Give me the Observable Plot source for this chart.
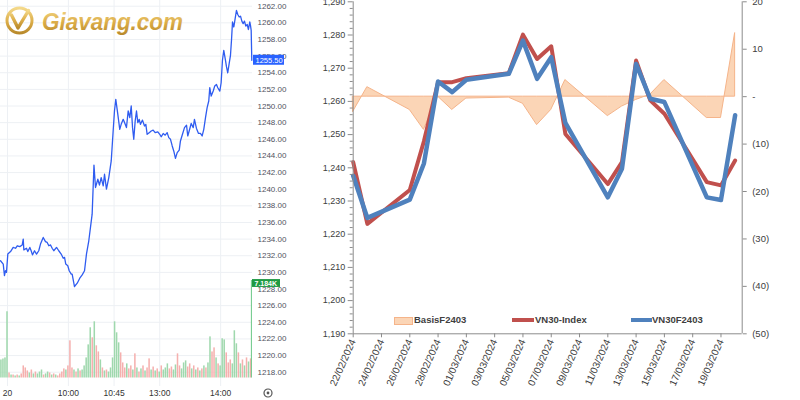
<!DOCTYPE html>
<html><head><meta charset="utf-8">
<script src="https://cdn.jsdelivr.net/npm/d3@7"></script>
<script src="https://cdn.jsdelivr.net/npm/@observablehq/plot@0.6"></script>
<style>
html,body{margin:0;padding:0;background:#fff;}
#wrap{position:relative;width:800px;height:400px;overflow:hidden;font-family:"Liberation Sans",Arial,sans-serif;}
#wrap svg{position:absolute;}
.lg{position:absolute;font:bold 9.5px "Liberation Sans",Arial,sans-serif;color:#404040;line-height:12px;white-space:nowrap;}
.sw{position:absolute;}
</style></head><body><div id="wrap"></div>
<script>
// ---------------- LEFT PANEL: intraday (trading minutes since 9:00) ----------------
const timeTicks  = [0, 60, 105, 150, 210];
const timeLabels = ["20", "10:00", "10:45", "13:00", "14:00"];
const sessionDomain = [-6.9, 241.4];
const priceTicks = [1218,1220,1222,1224,1226,1228,1230,1232,1234,1236,1238,1240,1242,1244,1246,1248,1250,1252,1254,1256,1258,1260,1262];

const priceTime = [-6.9,-4.2,-3.0,-2.0,-1.0,0.3,3.0,5.6,7.9,9.6,12.1,14.5,15.5,16.1,18.7,20.0,22.0,23.3,24.6,26.6,28.6,30.8,32.5,35.2,37.4,39.1,40.7,42.4,44.0,45.6,48.3,50.5,52.9,54.9,56.2,57.4,59.4,60.8,62.8,63.7,66.0,68.7,71.2,73.6,75.9,77.8,80.1,83.4,85.2,86.7,89.0,90.6,92.3,94.3,95.6,97.5,99.8,102.2,104.1,105.4,106.7,108.7,110.6,112.0,114.0,116.0,117.2,118.9,120.5,121.9,123.2,124.4,125.8,127.1,128.4,129.8,131.0,133.0,135.0,136.3,137.6,139.6,141.6,143.5,145.5,148.1,150.0,151.4,153.4,155.4,157.3,158.9,160.6,162.3,163.8,165.5,167.2,169.2,170.4,172.4,174.4,176.4,177.6,179.0,181.0,183.0,184.2,186.2,188.2,190.1,191.8,193.4,195.1,196.7,198.3,199.3,200.7,202.7,204.2,205.9,207.2,209.2,210.5,211.8,213.1,214.5,215.8,217.0,218.4,219.7,220.7,221.7,223.0,224.3,225.6,226.9,228.3,229.6,230.9,232.2,233.5,234.8,236.2,237.4,238.7,239.4,240.1,240.7];
const priceValue = [1231.4,1231.0,1229.6,1230.2,1230.0,1232.2,1232.5,1233.0,1232.9,1233.2,1233.1,1233.3,1234.0,1232.7,1232.9,1232.5,1233.0,1232.6,1232.1,1232.6,1232.2,1232.6,1233.4,1234.2,1233.7,1233.6,1233.2,1233.3,1232.9,1232.6,1233.0,1232.6,1232.2,1231.7,1231.8,1231.0,1230.8,1230.2,1229.8,1229.8,1228.3,1228.7,1229.3,1229.7,1230.2,1232.2,1233.8,1237.0,1242.9,1240.2,1241.2,1240.5,1241.4,1240.4,1241.8,1240.0,1241.4,1243.4,1247.0,1249.4,1250.8,1249.0,1247.2,1247.8,1248.4,1247.8,1247.4,1249.4,1248.6,1250.0,1247.4,1246.0,1248.2,1249.4,1248.0,1248.4,1247.8,1248.3,1247.6,1247.8,1246.6,1246.8,1247.0,1247.1,1246.8,1246.9,1246.6,1246.3,1246.7,1246.5,1246.8,1246.2,1246.0,1245.2,1244.6,1243.7,1244.4,1244.7,1245.8,1246.6,1247.4,1247.7,1246.4,1247.0,1247.9,1247.4,1248.4,1247.3,1246.7,1246.7,1246.4,1247.2,1248.6,1249.8,1250.6,1252.2,1251.2,1251.8,1252.4,1252.6,1252.2,1251.8,1252.8,1255.5,1256.7,1255.7,1254.7,1254.0,1255.1,1256.1,1257.9,1260.1,1259.5,1260.5,1261.5,1261.0,1260.7,1260.8,1260.2,1259.9,1260.2,1259.6,1259.8,1259.2,1260.1,1259.7,1259.1,1255.5];

// volume bars, one every 2 trading minutes starting at -6
const volStart = -6, volStep = 2;
const volValue = [1330,1400,1480,4880,370,220,220,150,220,150,300,890,740,520,370,590,300,440,300,440,590,220,300,440,370,220,300,220,150,300,440,670,590,890,2740,740,590,440,670,520,590,890,1480,2440,3700,2960,4140,2370,1920,1330,740,520,590,440,740,1480,4140,3330,2590,1850,1110,740,1040,670,890,590,1780,740,440,670,890,520,740,1410,590,810,520,670,440,890,590,740,1040,670,810,590,960,1780,890,670,1110,1260,810,1040,670,890,590,740,520,670,890,740,1110,3030,1920,2220,1480,1040,890,2890,2810,1850,1110,1330,1040,3480,2520,1850,1040,1330,890,1480,1180,1410];
const volDir = "gggg rgrgrg rrrrgrgrgg grggrgrgrr rrgrrrgrgr ggggg rgrrg rgrgggggg r rrgrrgrgrg rgrrgrgrgr ggg rrggrrg ggrrgrgrgr grggrrgrgg grrrgggrgr grgr".replace(/\s/g,"").split("");
const atcTime = 240.8, atcVolume = 7184;

// ---------------- RIGHT PANEL: daily VN30 vs VN30F2403 ----------------
const tradeDates = ["2024-02-22","2024-02-23","2024-02-26","2024-02-27","2024-02-28","2024-02-29","2024-03-01","2024-03-04","2024-03-05","2024-03-06","2024-03-07","2024-03-08","2024-03-11","2024-03-12","2024-03-13","2024-03-14","2024-03-15","2024-03-18","2024-03-19","2024-03-20"];
const vn30Index  = [1241.7,1223.1,1233.3,1248.0,1265.8,1265.8,1267.0,1268.5,1280.1,1272.8,1276.6,1250.2,1235.1,1241.7,1272.3,1260.3,1256.3,1235.7,1234.7,1242.2];
const vn30F2403  = [1237.6,1224.9,1230.4,1241.3,1266.0,1262.8,1266.5,1268.3,1278.3,1266.8,1273.3,1253.5,1231.1,1239.7,1271.3,1260.8,1259.8,1231.1,1230.3,1255.8];
const basisF2403 = [-3.2,2.0,-2.8,-7.0,0.0,-2.8,-0.4,-0.2,-1.5,-6.0,-2.8,3.5,-4.1,-2.1,-0.7,0.4,3.5,-4.5,-4.5,13.4];
const dateTickLabels = ["2024-02-22","2024-02-24","2024-02-26","2024-02-28","2024-03-01","2024-03-03","2024-03-05","2024-03-07","2024-03-09","2024-03-11","2024-03-13","2024-03-15","2024-03-17","2024-03-19"];
const leftTicks = [1190,1200,1210,1220,1230,1240,1250,1260,1270,1280,1290];
const rightTickValues = [20,10,0,-10,-20,-30,-40,-50];
const rightTickLabels = ["20","10","-","(10)","(20)","(30)","(40)","(50)"];
const seriesNames = ["BasisF2403","VN30-Index","VN30F2403"];

// ================= build =================
const wrap = document.getElementById("wrap");
const FONT = "'Liberation Sans', Arial, sans-serif";

// left price plot
const priceData = priceTime.map((t,i)=>({t, p: priceValue[i]}));
const lastPrice = priceValue[priceValue.length-1];
const pricePlot = Plot.plot({
  width: 290, height: 400,
  marginLeft: 0, marginRight: 38, marginTop: 0, marginBottom: 14,
  x: {domain: sessionDomain, range: [0, 252]},
  y: {domain: [1218, 1262], range: [371.7, 5.7]},
  style: {background: "transparent", fontFamily: FONT, color: "#50535e"},
  marks: [
    Plot.gridY(priceTicks, {stroke: "#edf0f4", strokeOpacity: 1}),
    Plot.gridX(timeTicks, {stroke: "#edf0f4", strokeOpacity: 1}),
    Plot.axisY(priceTicks, {anchor: "right", tickSize: 0, tickPadding: 5, fontSize: 8, tickFormat: d => d.toFixed(2), label: null}),
    Plot.axisX(timeTicks, {anchor: "bottom", tickSize: 0, tickPadding: 3, fontSize: 8.5, fill: "#333", tickFormat: d => timeLabels[timeTicks.indexOf(d)], label: null}),
    Plot.line(priceData, {x: "t", y: "p", stroke: "#2f5cf0", strokeWidth: 1.3}),
    Plot.rect([lastPrice], {x1: () => sessionDomain[1], x2: () => sessionDomain[1], y1: d => d - 0.6, y2: d => d + 0.6, insetLeft: 1, insetRight: -32, fill: "#2962ff"}),
    Plot.text([lastPrice], {x: () => sessionDomain[1], y: d => d, text: d => d.toFixed(2), dx: 3, textAnchor: "start", fill: "white", fontSize: 7.5})
  ]
});
pricePlot.style.left = "0px"; pricePlot.style.top = "0px";
wrap.appendChild(pricePlot);

// left volume plot (overlay)
const volData = volValue.map((v,i)=>({t: volStart + volStep*i, v, up: volDir[i] === "g"}));
const volPlot = Plot.plot({
  width: 290, height: 400,
  marginLeft: 0, marginRight: 38, marginTop: 0, marginBottom: 14,
  x: {domain: sessionDomain, range: [0, 252], axis: null},
  y: {domain: [0, atcVolume], range: [377.5, 280], axis: null},
  style: {background: "transparent", fontFamily: FONT},
  marks: [
    Plot.rect(volData, {x1: d => d.t - 0.75, x2: d => d.t + 0.75, y1: () => 0, y2: "v", fill: d => d.up ? "#9fd8ad" : "#f5b0ae"}),
    Plot.rect([atcVolume], {x1: () => atcTime - 0.5, x2: () => atcTime + 0.5, y1: () => 0, y2: d => d, fill: "#6cc888"}),
    Plot.rect([atcVolume], {x1: () => sessionDomain[1], x2: () => sessionDomain[1], y1: d => d - 290, y2: d => d + 290, insetLeft: 0, insetRight: -28, dy: 3, fill: "#1f9a43"}),
    Plot.text([atcVolume], {x: () => sessionDomain[1], y: d => d, text: d => (d/1000).toFixed(3) + "K", dx: 2, dy: 3, textAnchor: "start", fill: "white", fontWeight: "bold", fontSize: 7})
  ]
});
volPlot.style.left = "0px"; volPlot.style.top = "0px";
wrap.appendChild(volPlot);

// logo + settings icon (decoration)
wrap.insertAdjacentHTML("beforeend", `
<svg width="200" height="45" style="left:0;top:0">
  <defs><linearGradient id="gold" x1="0" y1="0" x2="0" y2="1">
    <stop offset="0" stop-color="#f4d98a"/><stop offset="0.55" stop-color="#dcad48"/><stop offset="1" stop-color="#b98a2c"/></linearGradient></defs>
  <circle cx="19.5" cy="20.5" r="12.5" fill="none" stroke="url(#gold)" stroke-width="3"/>
  <path d="M11.5 15 L18 28 L28.5 10.5" fill="none" stroke="url(#gold)" stroke-width="3.4" stroke-linejoin="round" stroke-linecap="round"/>
  <text x="42" y="29.5" font-family="Liberation Sans, Arial" font-weight="bold" font-style="italic" font-size="24" fill="url(#gold)" textLength="141" lengthAdjust="spacingAndGlyphs">Giavang.com</text>
</svg>
<svg width="12" height="12" style="left:262px;top:387px">
  <circle cx="6" cy="6" r="4" fill="none" stroke="#555" stroke-width="1.2"/><circle cx="6" cy="6" r="1.4" fill="#555"/>
</svg>`);

// right plot
const parse = d3.utcParse("%Y-%m-%d");
const dailyData = tradeDates.map((s,i)=>({date: parse(s), vn30: vn30Index[i], fut: vn30F2403[i], basis: basisF2403[i]}));
const toLeft = d3.scaleLinear().domain([-50, 20]).range([1190, 1290]);
const xDom = [parse("2024-02-22"), new Date(Date.UTC(2024, 2, 20, 12))];
const rightTicksMapped = rightTickValues.map(v => toLeft(v));
const leftMinor = d3.range(1190, 1291, 2).filter(v => v % 10 !== 0);
const axisGrey = "#8c8c8c", txt = "#404040";
const rightPlot = Plot.plot({
  width: 510, height: 400,
  marginLeft: 62.7, marginRight: 58.3, marginTop: 1.3, marginBottom: 66.7,
  x: {type: "utc", domain: xDom},
  y: {domain: [1190, 1290]},
  style: {background: "transparent", fontFamily: FONT, color: txt},
  marks: [
    Plot.areaY(dailyData, {x: "date", y1: () => toLeft(0), y2: d => toLeft(d.basis), fill: "#fbd5b6", stroke: "#f5b48a", strokeWidth: 1}),
    Plot.line(dailyData, {x: "date", y: "vn30", stroke: "#c0504d", strokeWidth: 4, strokeLinejoin: "round", strokeLinecap: "round"}),
    Plot.line(dailyData, {x: "date", y: "fut", stroke: "#4f81bd", strokeWidth: 4.5, strokeLinejoin: "round", strokeLinecap: "round"}),
    Plot.ruleX([xDom[0]], {stroke: axisGrey}),
    Plot.ruleX([xDom[1]], {stroke: axisGrey}),
    Plot.ruleY([1190], {stroke: axisGrey}),
    Plot.axisY(leftTicks, {anchor: "left", tickSize: 5, tickPadding: 3, fontSize: 9, stroke: axisGrey, fill: txt, tickFormat: d3.format(","), label: null}),
    Plot.axisY(leftMinor, {anchor: "left", tickSize: 3, stroke: axisGrey, tickFormat: () => "", label: null}),
    Plot.axisY(rightTicksMapped, {anchor: "right", tickSize: 4, tickPadding: 6, fontSize: 9.5, stroke: axisGrey, fill: txt, tickFormat: d => rightTickLabels[rightTicksMapped.indexOf(d)], label: null}),
    Plot.axisX(dateTickLabels.map(parse), {anchor: "bottom", tickSize: 4, tickPadding: 2, tickRotate: -66, fontSize: 10, stroke: axisGrey, fill: txt, tickFormat: d3.utcFormat("%d/%m/%Y"), label: null})
  ]
});
rightPlot.style.left = "290px"; rightPlot.style.top = "0px";
wrap.appendChild(rightPlot);

// legend (HTML, inside plot area)
wrap.insertAdjacentHTML("beforeend", `
<div class="sw" style="left:394px;top:316.5px;width:17px;height:6px;background:#fbd5b6;border:1px solid #f5b48a"></div>
<div class="lg" style="left:414px;top:314px">${seriesNames[0]}</div>
<div class="sw" style="left:512px;top:318px;width:22px;height:4px;background:#c0504d"></div>
<div class="lg" style="left:535px;top:314px">${seriesNames[1]}</div>
<div class="sw" style="left:631px;top:318px;width:21px;height:4px;background:#4f81bd"></div>
<div class="lg" style="left:652px;top:314px">${seriesNames[2]}</div>
`);
</script>
</body></html>
